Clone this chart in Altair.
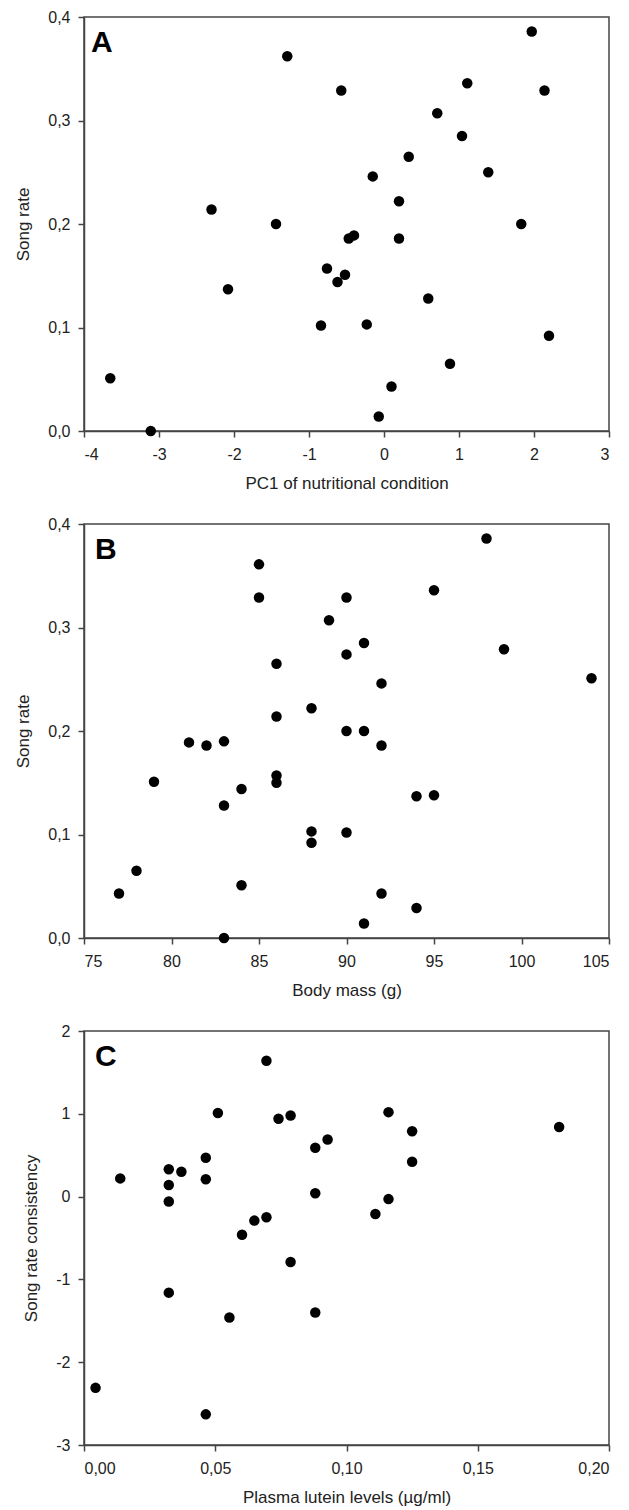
import altair as alt
import pandas as pd

# Panel A: PC1 of nutritional condition vs song rate
A_x = [-3.65, -3.11, -2.30, -2.08, -1.44, -1.29, -0.57, -0.76, -0.62, -0.52,
       -0.47, -0.40, -0.84, -0.23, -0.15, -0.07, 0.10, 0.20, 0.20, 0.33,
       0.59, 0.71, 0.88, 1.04, 1.11, 1.39, 1.83, 1.97, 2.14, 2.20]
A_y = [0.051, 0.000, 0.214, 0.137, 0.200, 0.362, 0.329, 0.157, 0.144, 0.151,
       0.186, 0.189, 0.102, 0.103, 0.246, 0.014, 0.043, 0.222, 0.186, 0.265,
       0.128, 0.307, 0.065, 0.285, 0.336, 0.250, 0.200, 0.386, 0.329, 0.092]

# Panel B: body mass vs song rate
B_x = [77, 78, 79, 81, 82, 83, 83, 83, 84, 84, 85, 85, 86, 86, 86, 86, 88, 88, 88,
       89, 90, 90, 90, 90, 91, 91, 91, 92, 92, 92, 94, 94, 95, 95, 98, 99, 104]
B_y = [0.043, 0.065, 0.151, 0.189, 0.186, 0.190, 0.128, 0.000, 0.144, 0.051,
       0.361, 0.329, 0.265, 0.214, 0.157, 0.150, 0.222, 0.103, 0.092, 0.307,
       0.329, 0.274, 0.200, 0.102, 0.285, 0.200, 0.014, 0.246, 0.186, 0.043,
       0.137, 0.029, 0.336, 0.138, 0.386, 0.279, 0.251]

# Panel C: plasma lutein vs song rate consistency
C_x = [0.0044, 0.0138, 0.0323, 0.0323, 0.0323, 0.0323, 0.0371, 0.0464, 0.0464,
       0.0464, 0.0510, 0.0554, 0.0602, 0.0649, 0.0695, 0.0695, 0.0741, 0.0787,
       0.0787, 0.0881, 0.0881, 0.0881, 0.0928, 0.111, 0.116, 0.116, 0.125,
       0.125, 0.181]
C_y = [-2.31, 0.22, 0.33, 0.14, -0.06, -1.16, 0.30, 0.47, 0.21, -2.63, 1.01,
       -1.46, -0.46, -0.29, 1.64, -0.25, 0.94, 0.98, -0.79, 0.59, 0.04, -1.40,
       0.69, -0.21, 1.02, -0.03, 0.79, 0.42, 0.84]

A_xticks = [-4, -3, -2, -1, 0, 1, 2, 3]
AB_yticks = [0.0, 0.1, 0.2, 0.3, 0.4]
B_xticks = [75, 80, 85, 90, 95, 100, 105]
C_xticks = [0.00, 0.05, 0.10, 0.15, 0.20]
C_yticks = [-3, -2, -1, 0, 1, 2]

FONT = "Liberation Sans"
INT_EXPR = "datum.value < 0 ? '-' + format(-datum.value, 'd') : format(datum.value, 'd')"


def dec_expr(n):
    return f"replace(format(datum.value, '.{n}f'), '.', ',')"


def panel(xs, ys, xdom, xticks, xexpr, xtitle, ydom, yticks, yexpr, ytitle, letter, ldx):
    df = pd.DataFrame({"x": xs, "y": ys})
    pts = alt.Chart(df).mark_circle(size=110, color="black", opacity=1).encode(
        x=alt.X("x:Q", scale=alt.Scale(domain=xdom, nice=False, zero=False),
                axis=alt.Axis(values=xticks, labelExpr=xexpr, title=xtitle,
                              labelPadding=9, titlePadding=13)),
        y=alt.Y("y:Q", scale=alt.Scale(domain=ydom, nice=False, zero=False),
                axis=alt.Axis(values=yticks, labelExpr=yexpr, title=ytitle,
                              labelPadding=8, titlePadding=15)),
    )
    lab = alt.Chart(pd.DataFrame({"t": [letter]})).mark_text(
        font=FONT, fontSize=30, fontWeight="bold", align="left", baseline="top",
        color="black"
    ).encode(x=alt.value(ldx), y=alt.value(11), text="t:N")
    return alt.layer(pts, lab).properties(width=525, height=414)


pA = panel(A_x, A_y, [-4, 3], A_xticks, INT_EXPR, "PC1 of nutritional condition",
           [0, 0.4], AB_yticks, dec_expr(1), "Song rate", "A", 7)
pB = panel(B_x, B_y, [75, 105], B_xticks, INT_EXPR, "Body mass (g)",
           [0, 0.4], AB_yticks, dec_expr(1), "Song rate", "B", 11)
pC = panel(C_x, C_y, [0, 0.2], C_xticks, dec_expr(2), "Plasma lutein levels (µg/ml)",
           [-3, 2], C_yticks, INT_EXPR, "Song rate consistency", "C", 11)

chart = alt.vconcat(pA, pB, pC, spacing=23).properties(
    padding={"left": 6, "top": 0, "right": 5, "bottom": 5},
    background="white"
).configure_view(
    stroke="#444", strokeWidth=1.5
).configure_axis(
    grid=False, domainColor="#444", domainWidth=1.5, tickColor="#444",
    tickWidth=1.5, tickSize=6, ticks=True, labelFont=FONT, labelFontSize=16,
    labelColor="#222", titleFont=FONT, titleFontSize=17,
    titleFontWeight="normal", titleColor="#222"
)

chart.save("out.html", embed_options={"renderer": "svg", "actions": False})
